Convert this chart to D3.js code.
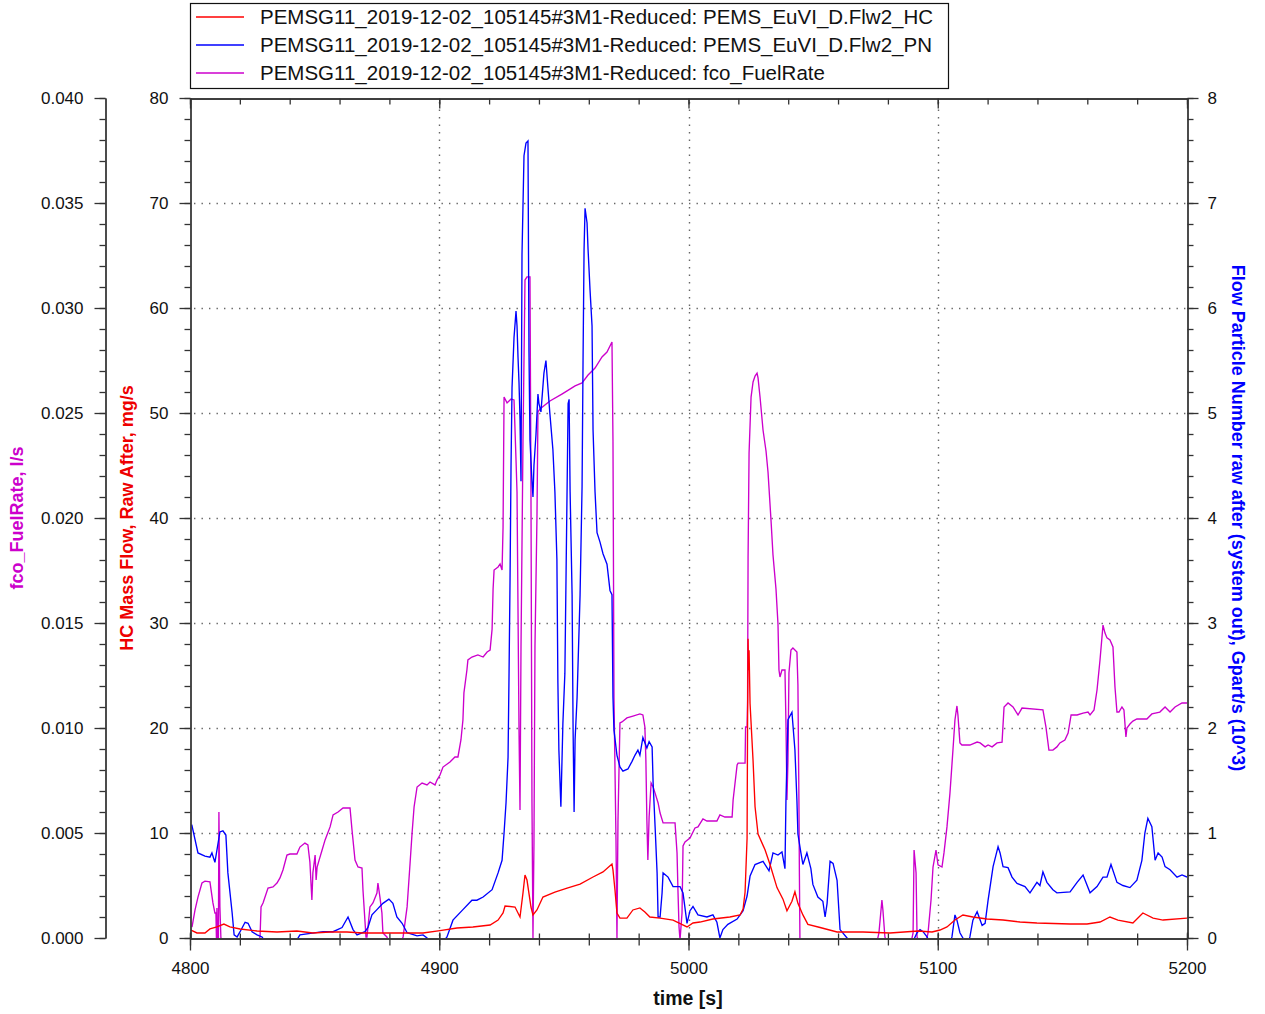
<!DOCTYPE html>
<html><head><meta charset="utf-8">
<script src="https://cdn.jsdelivr.net/npm/d3@7"></script>
<style>
body{margin:0;background:#fff;}
text{font-family:"Liberation Sans",Arial,sans-serif;}
</style>
</head><body>
<svg id="c" width="1265" height="1014"></svg>
<script>
// ---------- DATA ----------
const seriesNames = [
  "PEMSG11_2019-12-02_105145#3M1-Reduced: PEMS_EuVI_D.Flw2_HC",
  "PEMSG11_2019-12-02_105145#3M1-Reduced: PEMS_EuVI_D.Flw2_PN",
  "PEMSG11_2019-12-02_105145#3M1-Reduced: fco_FuelRate"
];
const xTickValues = [4800,4900,5000,5100,5200];
const hcTickValues = [0,10,20,30,40,50,60,70,80];
const pnTickValues = [0,1,2,3,4,5,6,7,8];
const fuelTickValues = [0,0.005,0.010,0.015,0.020,0.025,0.030,0.035,0.040];

// HC mass flow [mg/s] vs time [s]
const hcData = [[4800.4,0.76],[4802.8,0.48],[4806.0,0.48],[4808.0,0.86],[4810.8,1.05],[4813.6,1.33],[4816.0,1.05],[4820.1,0.86],[4826.9,0.67],[4834.9,0.57],[4842.9,0.67],[4849.3,0.48],[4856.2,0.57],[4863.0,0.57],[4869.4,0.48],[4880.2,0.48],[4893.5,0.48],[4900.3,0.7],[4907.1,0.95],[4913.5,1.05],[4920.4,1.24],[4923.6,1.71],[4925.6,2.38],[4926.4,3.05],[4930.4,2.95],[4932.4,2.0],[4933.6,4.29],[4934.4,6.0],[4935.2,5.52],[4936.8,2.95],[4937.6,2.19],[4939.2,2.67],[4941.6,3.9],[4946.4,4.38],[4951.3,4.76],[4956.5,5.14],[4961.7,5.81],[4965.7,6.29],[4969.3,7.05],[4969.7,6.48],[4970.5,4.57],[4971.3,2.38],[4972.5,1.9],[4975.3,1.9],[4977.7,2.67],[4980.5,2.86],[4982.5,2.48],[4984.5,2.0],[4988.6,1.9],[4993.8,1.71],[4999.4,1.05],[5001.8,1.43],[5004.6,1.52],[5009.8,1.81],[5016.6,2.0],[5020.7,2.19],[5021.9,2.76],[5022.7,4.38],[5023.5,9.5],[5023.7,20.5],[5023.9,28.5],[5024.1,25.5],[5024.3,27.4],[5024.7,22.3],[5025.9,16.9],[5026.7,12.5],[5027.9,9.9],[5030.7,8.4],[5032.7,7.0],[5035.5,4.8],[5037.9,3.7],[5039.5,2.6],[5041.5,3.5],[5042.7,4.4],[5043.9,3.3],[5045.9,2.2],[5047.9,1.3],[5052.8,1.0],[5059.6,0.57],[5070.0,0.57],[5080.8,0.48],[5092.1,0.67],[5097.7,0.57],[5100.9,0.76],[5103.7,1.05],[5106.9,1.71],[5110.1,2.19],[5114.1,2.0],[5119.8,1.81],[5126.2,1.71],[5133.0,1.52],[5139.8,1.43],[5153.1,1.33],[5159.9,1.33],[5165.1,1.52],[5169.1,2.0],[5172.3,1.71],[5178.3,1.43],[5182.3,2.38],[5186.4,1.9],[5190.4,1.71],[5200,1.9]];

// Particle number flow [Gpart/s (10^3)] vs time [s]
const pnData = [[4800.7,1.08],[4803.2,0.81],[4806.0,0.78],[4808.0,0.77],[4808.8,0.81],[4810.0,0.72],[4812.0,1.01],[4813.2,1.02],[4814.4,0.98],[4815.2,0.62],[4816.9,0.24],[4817.7,0.03],[4818.9,0.01],[4820.1,0.06],[4822.1,0.15],[4823.3,0.14],[4824.9,0.06],[4826.9,0.03],[4828.9,0.01],[4830.5,-0.05],[4842.1,-0.05],[4844.1,0.03],[4853.4,0.06],[4857.4,0.06],[4861.0,0.10],[4863.4,0.20],[4865.4,0.08],[4867.0,0.03],[4870.2,0.06],[4871.4,0.10],[4873.0,0.22],[4875.0,0.27],[4877.4,0.33],[4879.8,0.37],[4881.4,0.33],[4883.0,0.20],[4885.1,0.14],[4887.1,0.05],[4891.1,0.02],[4893.5,0.03],[4895.1,0.0],[4896.3,-0.05],[4901.1,-0.05],[4903.1,0.01],[4905.5,0.17],[4909.5,0.27],[4913.1,0.36],[4915.1,0.36],[4917.6,0.39],[4921.2,0.46],[4923.6,0.62],[4925.2,0.74],[4926.0,1.0],[4926.8,1.29],[4927.6,1.72],[4928.0,2.52],[4928.4,3.41],[4928.8,4.5],[4929.2,5.24],[4930.0,5.72],[4930.8,5.97],[4931.2,5.83],[4931.6,5.53],[4932.0,5.29],[4932.4,4.94],[4932.8,4.35],[4933.2,6.51],[4934.0,7.45],[4934.8,7.57],[4935.6,7.59],[4936.0,5.58],[4936.4,4.74],[4937.2,4.35],[4937.6,4.2],[4938.0,4.5],[4938.8,4.79],[4939.6,5.18],[4940.0,5.09],[4940.8,5.01],[4942.0,5.38],[4942.8,5.5],[4943.6,5.24],[4944.4,4.99],[4945.6,4.65],[4946.4,4.25],[4947.2,3.61],[4947.6,2.43],[4948.0,1.79],[4948.8,1.25],[4949.6,2.04],[4950.4,2.52],[4950.9,3.51],[4951.7,5.09],[4952.1,5.13],[4952.5,4.25],[4953.3,3.27],[4953.7,1.98],[4954.1,1.2],[4954.5,1.89],[4955.3,2.29],[4956.5,3.27],[4957.3,4.3],[4957.7,5.53],[4958.1,6.56],[4958.5,6.95],[4959.3,6.81],[4959.7,6.56],[4960.5,6.17],[4961.3,5.83],[4961.7,4.84],[4962.5,4.25],[4963.3,3.86],[4964.5,3.77],[4965.7,3.66],[4967.3,3.56],[4968.5,3.31],[4969.3,3.27],[4969.7,2.29],[4970.1,1.98],[4971.3,1.74],[4972.5,1.63],[4973.7,1.59],[4975.7,1.61],[4977.3,1.68],[4978.5,1.74],[4979.7,1.79],[4980.5,1.74],[4981.7,1.91],[4982.5,1.86],[4983.3,1.81],[4984.2,1.87],[4985.4,1.82],[4985.8,1.48],[4986.6,1.06],[4987.4,0.62],[4987.8,0.2],[4988.6,0.2],[4989.4,0.43],[4989.8,0.62],[4991.8,0.58],[4993.8,0.49],[4996.6,0.49],[4997.8,0.43],[4999.4,0.14],[5000.6,0.26],[5001.8,0.30],[5003.8,0.22],[5007.4,0.20],[5009.8,0.22],[5011.4,0.15],[5012.6,0.0],[5013.8,0.08],[5015.8,0.13],[5019.5,0.18],[5021.9,0.26],[5023.5,0.40],[5024.7,0.59],[5026.7,0.70],[5029.9,0.73],[5032.3,0.64],[5033.9,0.81],[5035.9,0.79],[5037.5,0.82],[5038.7,0.66],[5039.1,1.31],[5039.9,2.08],[5041.5,2.15],[5042.7,1.79],[5043.5,1.31],[5043.9,0.99],[5045.1,0.81],[5045.9,0.70],[5047.5,0.81],[5049.1,0.66],[5049.9,0.51],[5051.9,0.39],[5053.9,0.35],[5054.8,0.20],[5055.6,0.33],[5056.8,0.73],[5058.0,0.71],[5059.6,0.55],[5060.8,0.08],[5063.6,0.0],[5064.8,-0.05],[5089.7,-0.05],[5091.7,0.05],[5092.9,0.08],[5094.1,0.06],[5095.7,0.01],[5096.9,-0.05],[5104.9,-0.05],[5105.7,0.01],[5106.9,0.22],[5107.7,0.17],[5108.9,0.05],[5110.1,0.0],[5111.3,-0.05],[5112.1,-0.05],[5112.9,0.01],[5114.1,0.17],[5115.8,0.25],[5117.8,0.12],[5119.0,0.14],[5120.2,0.36],[5122.2,0.68],[5124.2,0.87],[5125.0,0.81],[5126.2,0.68],[5128.2,0.67],[5129.8,0.58],[5131.8,0.52],[5135.0,0.49],[5137.0,0.43],[5139.8,0.53],[5141.0,0.50],[5142.2,0.63],[5143.8,0.53],[5146.2,0.46],[5147.8,0.43],[5153.1,0.44],[5155.9,0.53],[5158.3,0.60],[5161.1,0.43],[5163.9,0.49],[5166.3,0.58],[5167.9,0.58],[5169.5,0.70],[5171.9,0.53],[5174.3,0.50],[5177.1,0.48],[5179.9,0.55],[5181.9,0.74],[5183.1,1.0],[5184.3,1.14],[5185.9,1.06],[5187.2,0.74],[5188.4,0.81],[5190.0,0.77],[5191.2,0.68],[5193.2,0.65],[5196.0,0.58],[5198.0,0.60],[5200.0,0.58]];

// Fuel rate [l/s] vs time [s]
const fuelData = [[4800.8,0.00052],[4802.0,0.00133],[4803.2,0.00195],[4804.8,0.00262],[4806.0,0.00271],[4808.0,0.00267],[4809.2,0.00167],[4810.0,0.00119],[4810.4,0.00119],[4810.6,0.0],[4810.8,0.00143],[4811.0,0.0],[4811.4,0.0],[4811.6,0.0060],[4812.0,0.00148],[4812.4,0.0],[4812.8,-0.0002],[4827.3,-0.0002],[4828.1,0.00005],[4828.5,0.00148],[4829.3,0.00167],[4831.3,0.00238],[4833.3,0.00243],[4834.9,0.00262],[4836.1,0.00286],[4837.3,0.00324],[4838.9,0.00395],[4840.1,0.00400],[4842.9,0.00400],[4844.1,0.00433],[4846.1,0.00452],[4847.3,0.00443],[4848.1,0.00362],[4848.9,0.00181],[4849.3,0.00310],[4850.2,0.00395],[4850.6,0.00276],[4851.0,0.00338],[4851.8,0.00371],[4853.0,0.00419],[4854.2,0.00467],[4856.2,0.00529],[4857.4,0.00586],[4859.4,0.00600],[4861.4,0.00619],[4864.2,0.00619],[4865.0,0.00514],[4866.2,0.00371],[4867.4,0.00338],[4869.0,0.00333],[4869.4,0.00229],[4870.6,0.00005],[4871.0,0.00005],[4872.2,0.00148],[4873.4,0.00167],[4875.0,0.00214],[4875.4,0.00262],[4876.2,0.00195],[4877.0,0.00119],[4877.4,0.00024],[4879.0,0.00005],[4879.8,-0.0002],[4884.7,-0.0002],[4885.5,0.00005],[4887.1,0.00148],[4888.3,0.00357],[4889.1,0.00500],[4889.9,0.00624],[4891.1,0.00719],[4893.1,0.00738],[4895.1,0.00729],[4896.3,0.00743],[4898.3,0.00729],[4899.1,0.00752],[4900.3,0.00776],[4901.5,0.00814],[4904.3,0.00838],[4906.3,0.00862],[4907.5,0.00862],[4908.7,0.00943],[4909.5,0.01038],[4909.9,0.01167],[4911.1,0.01276],[4911.5,0.01324],[4913.1,0.01338],[4915.5,0.01348],[4917.6,0.01338],[4919.2,0.01362],[4920.4,0.01371],[4921.2,0.01471],[4921.6,0.01662],[4922.0,0.01752],[4923.6,0.01767],[4924.4,0.01781],[4925.2,0.01752],[4925.6,0.01957],[4926.0,0.02576],[4927.2,0.02548],[4928.8,0.02567],[4930.0,0.02562],[4930.8,0.02276],[4931.2,0.02124],[4932.0,0.00990],[4932.4,0.00610],[4932.8,0.01386],[4933.6,0.02371],[4934.4,0.03133],[4935.2,0.03148],[4936.4,0.03148],[4936.8,0.02124],[4937.2,0.00648],[4937.6,0.0],[4938.0,0.00452],[4938.4,0.01386],[4939.2,0.02000],[4939.6,0.02505],[4940.4,0.02519],[4944.4,0.02557],[4949.2,0.02590],[4951.3,0.02605],[4954.5,0.02629],[4957.3,0.02643],[4959.7,0.02681],[4962.5,0.02714],[4965.3,0.02767],[4967.3,0.02790],[4969.3,0.02838],[4969.7,0.02371],[4970.1,0.01143],[4970.9,0.00476],[4971.3,0.0],[4971.7,0.00552],[4972.5,0.01024],[4973.3,0.01029],[4975.3,0.01048],[4977.7,0.01057],[4980.5,0.01067],[4981.7,0.01062],[4982.5,0.01005],[4982.9,0.00848],[4983.3,0.00562],[4983.7,0.00371],[4984.2,0.00576],[4985.0,0.00738],[4985.8,0.00719],[4986.6,0.00690],[4987.8,0.00643],[4988.6,0.00595],[4989.8,0.00548],[4994.6,0.00548],[4995.4,0.00405],[4995.8,0.00214],[4996.2,0.00052],[4996.6,-0.0001],[4997.4,0.00119],[4997.8,0.00438],[4998.6,0.00457],[5000.6,0.00476],[5002.6,0.00524],[5003.8,0.00529],[5005.8,0.00567],[5007.4,0.00557],[5011.4,0.00557],[5012.6,0.00586],[5014.6,0.00576],[5017.5,0.00576],[5017.9,0.00657],[5019.5,0.00824],[5019.9,0.00833],[5022.7,0.00833],[5022.9,0.01005],[5023.5,0.01005],[5023.7,0.01133],[5023.9,0.01810],[5024.3,0.02310],[5025.1,0.02576],[5025.9,0.02648],[5026.7,0.02676],[5027.5,0.02690],[5027.9,0.02667],[5028.7,0.02576],[5029.9,0.02419],[5031.1,0.02319],[5031.9,0.02219],[5033.1,0.01990],[5033.9,0.01824],[5035.1,0.01662],[5035.9,0.01495],[5036.3,0.01276],[5036.7,0.01243],[5037.5,0.01276],[5038.7,0.01276],[5039.1,0.01024],[5039.5,0.00657],[5039.9,0.00843],[5040.3,0.01262],[5041.1,0.01371],[5041.9,0.01381],[5043.5,0.01362],[5043.9,0.01205],[5044.3,0.00657],[5044.5,0.00295],[5044.7,0.0],[5045.5,-0.0002],[5075.6,-0.0002],[5076.4,0.00024],[5077.6,0.00181],[5078.0,0.00133],[5078.8,0.00005],[5079.6,-0.0002],[5089.3,-0.0002],[5090.1,0.00024],[5090.5,0.00419],[5091.3,0.00310],[5091.7,0.00005],[5092.5,-0.0002],[5095.3,-0.0002],[5096.1,0.00024],[5097.3,0.00181],[5098.1,0.00338],[5099.3,0.00419],[5100.1,0.00348],[5101.7,0.00338],[5102.5,0.00405],[5103.7,0.00529],[5104.9,0.00690],[5106.1,0.00895],[5106.9,0.01038],[5107.7,0.01105],[5108.1,0.01062],[5108.9,0.00929],[5109.7,0.00919],[5112.9,0.00919],[5115.8,0.00933],[5117.0,0.00929],[5119.0,0.00910],[5120.2,0.00919],[5121.8,0.00910],[5123.8,0.00929],[5125.8,0.00933],[5126.6,0.01100],[5128.2,0.01119],[5130.2,0.01100],[5132.2,0.01062],[5133.8,0.01095],[5142.2,0.01086],[5143.4,0.01005],[5144.6,0.00895],[5146.2,0.00895],[5147.8,0.00910],[5149.0,0.00929],[5151.0,0.00943],[5152.3,0.00976],[5153.5,0.01062],[5155.9,0.01062],[5158.3,0.01071],[5160.3,0.01076],[5161.1,0.01062],[5162.7,0.01086],[5163.9,0.01181],[5165.1,0.01324],[5166.3,0.01490],[5167.1,0.01452],[5167.9,0.01429],[5169.1,0.01419],[5170.3,0.01386],[5171.1,0.01195],[5171.9,0.01076],[5172.7,0.01076],[5173.9,0.01100],[5174.7,0.01086],[5175.5,0.00957],[5175.9,0.01000],[5177.1,0.01019],[5178.3,0.01033],[5179.9,0.01043],[5183.9,0.01043],[5185.9,0.01067],[5189.1,0.01076],[5191.2,0.01100],[5193.2,0.01076],[5195.2,0.01100],[5198.0,0.01119],[5200,0.01119]];

// ---------- LAYOUT ----------
const L = 190, R = 1187, T = 98, B = 938;
const axisColor = "#333";
const cRed = "#ff0000", cBlue = "#0000ff", cMag = "#cc00cc";

const svg = d3.select("#c");
svg.append("rect").attr("width",1265).attr("height",1014).attr("fill","#fff");

const x = d3.scaleLinear().domain([4800,5200]).range([L,R]);
const yHC = d3.scaleLinear().domain([0,80]).range([B,T]);
const yPN = d3.scaleLinear().domain([0,8]).range([B,T]);
const yFuel = d3.scaleLinear().domain([0,0.04]).range([B,T]);

// grid
const grid = svg.append("g").attr("stroke","#666").attr("stroke-width",1.4)
  .attr("stroke-dasharray","1.4,6.1").attr("fill","none");
hcTickValues.filter(v=>v>0 && v<80).forEach(v=>{
  grid.append("line").attr("x1",L+4).attr("x2",R).attr("y1",Math.round(yHC(v))+0.5).attr("y2",Math.round(yHC(v))+0.5);
});
xTickValues.filter(v=>v>4800 && v<5200).forEach(v=>{
  grid.append("line").attr("x1",Math.round(x(v))+0.5).attr("x2",Math.round(x(v))+0.5).attr("y1",T+4).attr("y2",B);
});

// series
svg.append("clipPath").attr("id","clip").append("rect")
  .attr("x",L).attr("y",T).attr("width",R-L).attr("height",B-T);
const plot = svg.append("g").attr("clip-path","url(#clip)");
const mk = ys => d3.line().x(d=>x(d[0])).y(d=>ys(d[1]));
const lw = 1.35;
plot.append("path").datum(fuelData).attr("d",mk(yFuel)).attr("fill","none").attr("stroke",cMag).attr("stroke-width",lw);
plot.append("path").datum(pnData).attr("d",mk(yPN)).attr("fill","none").attr("stroke",cBlue).attr("stroke-width",lw);
plot.append("path").datum(hcData).attr("d",mk(yHC)).attr("fill","none").attr("stroke",cRed).attr("stroke-width",lw);

// helper to style axes
function styleAxis(g){
  g.selectAll("path.domain").attr("stroke",axisColor).attr("stroke-width",1.3);
  g.selectAll(".tick line").attr("stroke",axisColor).attr("stroke-width",1.3);
  g.selectAll(".tick text").attr("fill","#111").style("font-size","17px")
    .style("font-family",'"Liberation Sans",Arial,sans-serif');
}
const range = (a,b,s) => d3.range(a,b+s/2,s);

// fuel axis (x=105)
const gF = svg.append("g").attr("transform","translate(105.5,0)");
gF.call(d3.axisLeft(yFuel).tickValues(range(0,0.04,0.001)).tickSize(6).tickFormat("").tickSizeOuter(0));
styleAxis(gF);
const gF2 = svg.append("g").attr("transform","translate(105.5,0)");
gF2.call(d3.axisLeft(yFuel).tickValues(fuelTickValues).tickSize(11).tickPadding(11).tickFormat(d3.format(".3f")).tickSizeOuter(0));
styleAxis(gF2);

// HC axis (x=190)
const gH = svg.append("g").attr("transform",`translate(${L+0.5},0)`);
gH.call(d3.axisLeft(yHC).tickValues(range(0,80,2)).tickSize(6).tickFormat("").tickSizeOuter(0));
styleAxis(gH);
const gH2 = svg.append("g").attr("transform",`translate(${L+0.5},0)`);
gH2.call(d3.axisLeft(yHC).tickValues(hcTickValues).tickSize(11).tickPadding(11).tickFormat(d3.format("d")).tickSizeOuter(0));
styleAxis(gH2);

// PN axis (x=1187)
const gP = svg.append("g").attr("transform",`translate(${R+0.5},0)`);
gP.call(d3.axisRight(yPN).tickValues(range(0,8,0.2)).tickSize(6).tickFormat("").tickSizeOuter(0));
styleAxis(gP);
const gP2 = svg.append("g").attr("transform",`translate(${R+0.5},0)`);
gP2.call(d3.axisRight(yPN).tickValues(pnTickValues).tickSize(11).tickPadding(9).tickFormat(d3.format("d")).tickSizeOuter(0));
styleAxis(gP2);

// bottom axis
const gX = svg.append("g").attr("transform",`translate(0,${B+0.5})`);
gX.call(d3.axisBottom(x).tickValues(range(4800,5200,20)).tickSize(7).tickFormat("").tickSizeOuter(0));
styleAxis(gX);
gX.selectAll(".tick line").attr("y1",-5);
const gX2 = svg.append("g").attr("transform",`translate(0,${B+0.5})`);
gX2.call(d3.axisBottom(x).tickValues(xTickValues).tickSize(12).tickPadding(11).tickFormat(d3.format("d")).tickSizeOuter(0));
styleAxis(gX2);
gX2.selectAll(".tick line").attr("y1",-6);

// top axis
const gT = svg.append("g").attr("transform",`translate(0,${T+0.5})`);
gT.call(d3.axisTop(x).tickValues(range(4800,5200,20)).tickSize(-6).tickFormat("").tickSizeOuter(0));
styleAxis(gT);
const gT2 = svg.append("g").attr("transform",`translate(0,${T+0.5})`);
gT2.call(d3.axisTop(x).tickValues(xTickValues).tickSize(-10).tickFormat("").tickSizeOuter(0));
styleAxis(gT2);

// axis titles
svg.append("text").attr("transform","translate(23,518) rotate(-90)").attr("text-anchor","middle")
  .attr("fill",cMag).style("font-size","18px").style("font-weight","bold").text("fco_FuelRate, l/s");
svg.append("text").attr("transform","translate(133,518) rotate(-90)").attr("text-anchor","middle")
  .attr("fill","#ee0000").style("font-size","18px").style("font-weight","bold").text("HC Mass Flow, Raw After, mg/s");
svg.append("text").attr("transform","translate(1232,518) rotate(90)").attr("text-anchor","middle")
  .attr("fill",cBlue).style("font-size","18px").style("font-weight","bold")
  .text("Flow Particle Number raw after (system out), Gpart/s (10^3)");
svg.append("text").attr("x",688).attr("y",1005).attr("text-anchor","middle")
  .attr("fill","#111").style("font-size","19.5px").style("font-weight","bold").text("time [s]");

// legend
const lg = svg.append("g");
lg.append("rect").attr("x",190.5).attr("y",3.5).attr("width",758).attr("height",85)
  .attr("fill","#fff").attr("stroke","#111").attr("stroke-width",1.2);
const lcols = [cRed, cBlue, cMag];
seriesNames.forEach((n,i)=>{
  const yy = 17 + i*28;
  lg.append("line").attr("x1",196).attr("x2",244).attr("y1",yy).attr("y2",yy)
    .attr("stroke",lcols[i]).attr("stroke-width",1.6);
  lg.append("text").attr("x",260).attr("y",yy+7).attr("fill","#111")
    .style("font-size","20.5px").text(n);
});
</script>
</body></html>
